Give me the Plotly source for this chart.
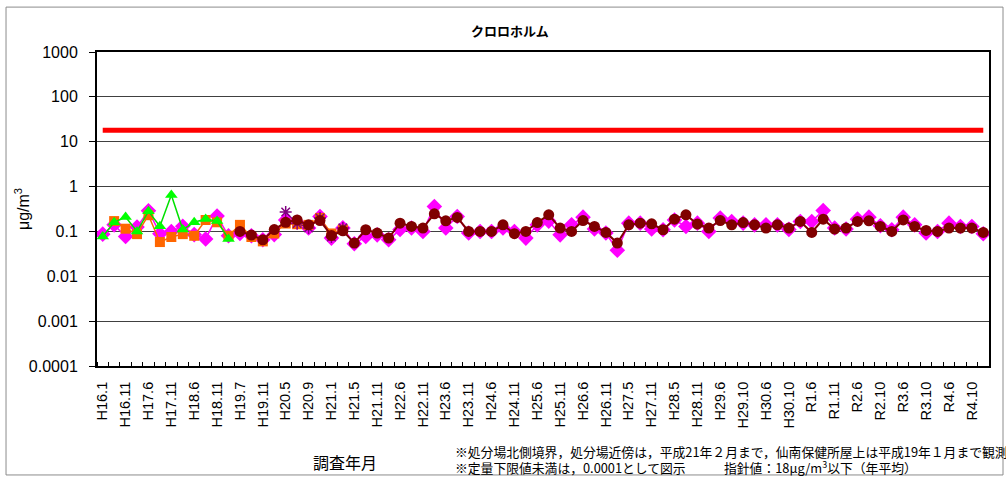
import plotly.graph_objects as go

categories = [
    "H16.1", "H16.6", "H16.11", "H17.1", "H17.6", "H17.8", "H17.11", "H18.1", "H18.6", "H18.8",
    "H18.11", "H19.1", "H19.7", "H19.8", "H19.11", "H20.1", "H20.5", "H20.7", "H20.9", "H20.11",
    "H21.1", "H21.2", "H21.5", "H21.8", "H21.11", "H22.1", "H22.6", "H22.8", "H22.11", "H23.1",
    "H23.6", "H23.8", "H23.11", "H24.1", "H24.6", "H24.8", "H24.11", "H25.1", "H25.6", "H25.8",
    "H25.11", "H26.1", "H26.6", "H26.8", "H26.11", "H27.1", "H27.5", "H27.8", "H27.11", "H28.1",
    "H28.5", "H28.8", "H28.11", "H29.1", "H29.6", "H29.8", "H29.10", "H30.1", "H30.6", "H30.8",
    "H30.10", "H31.1", "R1.6", "R1.8", "R1.11", "R2.1", "R2.6", "R2.8", "R2.10", "R3.1",
    "R3.6", "R3.8", "R3.10", "R4.1", "R4.6", "R4.8", "R4.10", "R5.1",
]

magenta_vals = [
    0.087, 0.14, 0.077, 0.125, 0.29, 0.089, 0.1, 0.13, 0.085, 0.068,
    0.22, 0.08, 0.09, 0.08, 0.065, 0.085, 0.18, 0.16, 0.12, 0.215,
    0.071, 0.12, 0.053, 0.077, 0.084, 0.065, 0.11, 0.119, 0.1, 0.36,
    0.119, 0.215, 0.092, 0.1, 0.1, 0.12, 0.1, 0.071, 0.14, 0.17,
    0.084, 0.14, 0.208, 0.113, 0.092, 0.038, 0.153, 0.153, 0.113, 0.109,
    0.18, 0.129, 0.153, 0.1, 0.2, 0.167, 0.153, 0.14, 0.14, 0.14,
    0.111, 0.167, 0.167, 0.293, 0.119, 0.113, 0.188, 0.208, 0.134, 0.109,
    0.208, 0.14, 0.092, 0.1, 0.153, 0.129, 0.129, 0.089,
]

orange_vals = [
    None, 0.17, 0.115, 0.087, 0.23, 0.058, 0.075, 0.087, 0.08, 0.18,
    0.16, 0.08, 0.14, 0.075, 0.06, 0.09, 0.15, 0.145, 0.14, 0.2,
    0.09, 0.11,
] + [None] * 56

green_vals = [
    0.077, 0.16, 0.21, 0.1, 0.28, 0.13, 0.65, 0.11, 0.16, 0.19,
    0.17, 0.068,
] + [None] * 66

purple_vals = [None] * 16 + [0.27, 0.15, 0.12, 0.2, 0.075, 0.12] + [None] * 56

darkred_vals = [None] * 12 + [
    0.1, 0.083, 0.065, 0.11, 0.16, 0.18, 0.14, 0.175,
    0.081, 0.103, 0.055, 0.109, 0.092, 0.071, 0.153, 0.129, 0.119, 0.247,
    0.172, 0.205, 0.1, 0.1, 0.1, 0.14, 0.089, 0.1, 0.158, 0.234,
    0.119, 0.1, 0.175, 0.129, 0.095, 0.055, 0.14, 0.153, 0.148, 0.109,
    0.188, 0.234, 0.146, 0.119, 0.175, 0.14, 0.158, 0.14, 0.119, 0.14,
    0.119, 0.167, 0.095, 0.188, 0.113, 0.119, 0.167, 0.172, 0.129, 0.1,
    0.18, 0.129, 0.105, 0.1, 0.119, 0.119, 0.119, 0.095,
]

guideline_value = 18
guideline_vals = [guideline_value] * len(categories)

y_tick_vals = [0.0001, 0.001, 0.01, 0.1, 1, 10, 100, 1000]
y_tick_text = ["0.0001", "0.001", "0.01", "0.1", "1", "10", "100", "1000"]

x = list(range(len(categories)))
label_idx = x[::2]

FONT = "Liberation Sans, Arial, Noto Sans CJK JP, sans-serif"
JFONT = "Noto Sans CJK JP, Liberation Sans, sans-serif"

fig = go.Figure()

fig.add_trace(go.Scatter(
    x=x, y=guideline_vals, mode="lines",
    line=dict(color="#FF0000", width=5), showlegend=False, hoverinfo="skip"))

fig.add_trace(go.Scatter(
    x=x, y=magenta_vals, mode="lines+markers", connectgaps=False,
    line=dict(color="#FF00FF", width=1.5),
    marker=dict(symbol="diamond", size=12, color="#FF00FF"), showlegend=False))

fig.add_trace(go.Scatter(
    x=x, y=orange_vals, mode="lines+markers",
    line=dict(color="#FF6600", width=1.5),
    marker=dict(symbol="square", size=10, color="#FF6600"), showlegend=False))

fig.add_trace(go.Scatter(
    x=x, y=purple_vals, mode="lines+markers",
    line=dict(color="#800080", width=1.2),
    marker=dict(symbol="asterisk-open", size=10, color="#800080",
                line=dict(color="#800080", width=1.5)), showlegend=False))

fig.add_trace(go.Scatter(
    x=x, y=green_vals, mode="lines+markers",
    line=dict(color="#00E000", width=1.5),
    marker=dict(symbol="triangle-up", size=11, color="#00FF00"), showlegend=False))

fig.add_trace(go.Scatter(
    x=x, y=darkred_vals, mode="lines+markers",
    line=dict(color="#800000", width=2),
    marker=dict(symbol="circle", size=11, color="#800000"), showlegend=False))

fig.update_layout(
    width=1006, height=477,
    margin=dict(l=97, r=17, t=52, b=111),
    paper_bgcolor="white", plot_bgcolor="white",
    font=dict(family=FONT, color="black"),
    showlegend=False,
)

fig.update_xaxes(
    type="linear", range=[-0.5, len(categories) - 0.5],
    tickmode="array", tickvals=label_idx,
    ticktext=[categories[i] for i in label_idx],
    tickangle=-90, tickfont=dict(size=14.5, family=FONT),
    ticks="", showgrid=False, zeroline=False,
    showline=True, linecolor="black", linewidth=2, mirror=True,
    ticklabelstandoff=8,
    minor=dict(tick0=-0.5, dtick=1, ticks="inside", ticklen=4,
               tickcolor="black", tickwidth=1, showgrid=False),
)

fig.update_yaxes(
    type="log", range=[-4, 3],
    tickmode="array", tickvals=y_tick_vals, ticktext=y_tick_text,
    tickfont=dict(size=16, family=FONT),
    ticks="outside", ticklen=6, tickcolor="black",
    showgrid=True, gridcolor="#404040", gridwidth=1,
    showline=True, linecolor="black", linewidth=2, mirror=True,
    zeroline=False, ticklabelstandoff=8,
)

annotations = [
    dict(text="<b>クロロホルム</b>", x=0.463, y=1.07, xref="paper", yref="paper",
         showarrow=False, font=dict(size=13, family=JFONT), xanchor="center", yanchor="middle"),
    dict(text="μg/m<sup>3</sup>", x=-0.084, y=0.5, xref="paper", yref="paper",
         showarrow=False, textangle=-90, font=dict(size=16, family=FONT),
         xanchor="center", yanchor="middle"),
    dict(text="調査年月", x=0.278, y=-0.306, xref="paper", yref="paper",
         showarrow=False, font=dict(size=16, family=JFONT), xanchor="center", yanchor="middle"),
    dict(text="※処分場北側境界，処分場近傍は，平成21年２月まで，仙南保健所屋上は平成19年１月まで観測",
         x=0.399, y=-0.271, xref="paper", yref="paper", showarrow=False,
         font=dict(size=12.8, family=JFONT), xanchor="left", yanchor="middle"),
    dict(text="※定量下限値未満は，0.0001として図示　　　指針値：18μg/m<sup>3</sup>以下（年平均）",
         x=0.399, y=-0.322, xref="paper", yref="paper", showarrow=False,
         font=dict(size=12.8, family=JFONT), xanchor="left", yanchor="middle"),
]
fig.update_layout(annotations=annotations)

fig.add_shape(type="rect", xref="paper", yref="paper",
              x0=-0.102, x1=1.0157, y0=-0.347, y1=1.143,
              line=dict(color="#8c8c8c", width=1), fillcolor="rgba(0,0,0,0)", layer="below")

fig.write_html("out.html", config={"displayModeBar": False},
               post_script="document.body.style.margin='0px';document.body.style.overflow='hidden';")
